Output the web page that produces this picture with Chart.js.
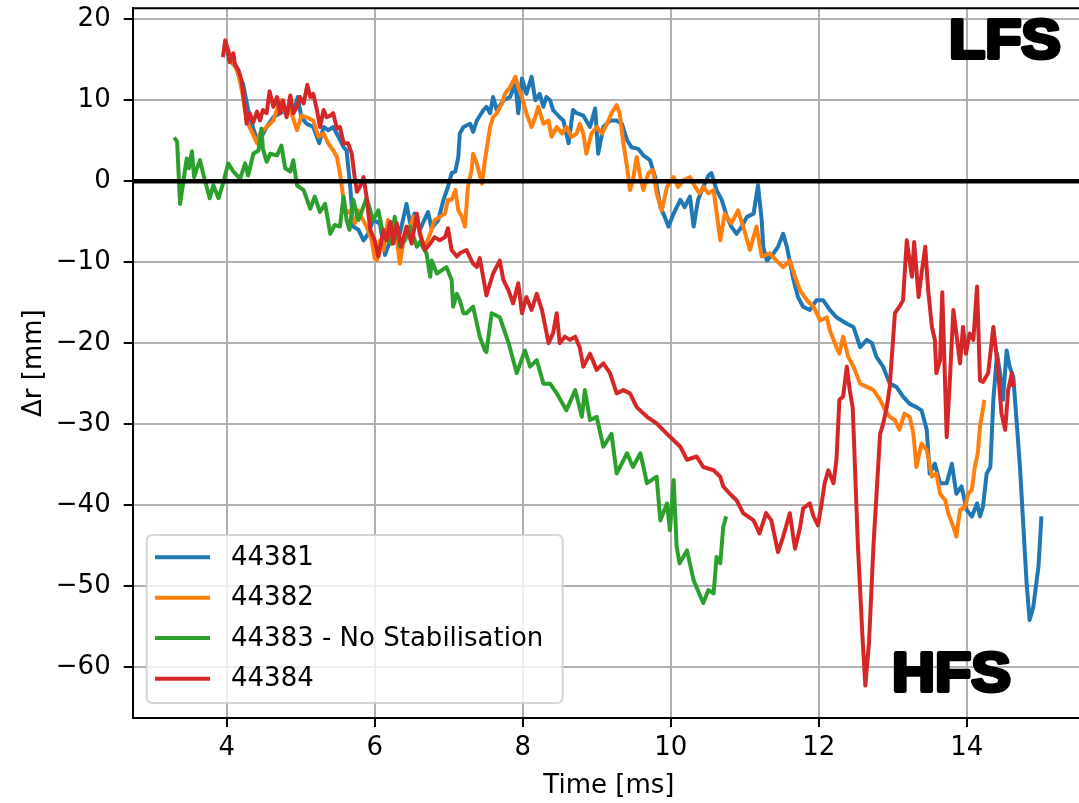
<!DOCTYPE html>
<html>
<head>
<meta charset="utf-8">
<script src="https://cdn.jsdelivr.net/npm/chart.js@4.4.1/dist/chart.umd.min.js"></script>
<style>
  html, body { margin: 0; padding: 0; background: #fff; overflow: hidden; }
  #wrap { width: 1079px; height: 803px; overflow: hidden; position: relative; }
  canvas { display: block; }
</style>
</head>
<body>
<div id="wrap"><canvas id="c" width="1090" height="803"></canvas></div>
<script>
// ---------- DATA ----------
const seriesLabels = ['44381', '44382', '44383 - No Stabilisation', '44384'];
const xTicks = [4, 6, 8, 10, 12, 14];
const yTicks = [-60, -50, -40, -30, -20, -10, 0, 10, 20];

const t44381 = [3.98,4.04,4.13,4.18,4.22,4.29,4.36,4.41,4.47,4.54,4.63,4.72,4.81,4.90,4.96,5.01,5.08,5.17,5.25,5.31,5.37,5.44,5.51,5.58,5.62,5.67,5.71,5.78,5.85,5.91,5.98,6.07,6.14,6.21,6.27,6.34,6.43,6.48,6.54,6.61,6.72,6.77,6.86,6.93,6.99,7.04,7.09,7.13,7.15,7.20,7.29,7.33,7.38,7.47,7.51,7.56,7.60,7.65,7.74,7.83,7.90,7.94,7.99,8.05,8.12,8.17,8.23,8.28,8.32,8.37,8.41,8.50,8.55,8.62,8.68,8.73,8.82,8.91,8.98,9.02,9.09,9.18,9.27,9.34,9.41,9.47,9.56,9.63,9.72,9.79,9.86,9.92,9.97,10.04,10.13,10.19,10.26,10.31,10.37,10.44,10.51,10.55,10.62,10.69,10.76,10.82,10.89,10.96,11.03,11.12,11.18,11.23,11.25,11.30,11.39,11.45,11.52,11.57,11.66,11.72,11.79,11.88,11.97,12.06,12.15,12.24,12.31,12.38,12.47,12.56,12.65,12.72,12.78,12.87,12.96,13.05,13.14,13.23,13.32,13.39,13.46,13.50,13.57,13.64,13.73,13.80,13.86,13.93,14.00,14.07,14.14,14.18,14.22,14.27,14.32,14.36,14.41,14.45,14.49,14.54,14.58,14.63,14.72,14.81,14.85,14.90,14.97,15.01];
const r44381 = [17.0,15.0,14.0,12.5,12.1,8.8,6.5,5.1,5.5,6.7,7.9,8.4,8.8,8.4,10.4,7.9,7.1,6.7,4.7,6.7,6.3,6.7,5.5,4.2,3.8,-0.7,-5.6,-6.0,-7.3,-6.5,-4.8,-5.2,-9.1,-7.3,-4.8,-6.5,-2.8,-5.2,-4.0,-6.0,-3.8,-5.8,-4.8,-2.3,-0.7,1.0,1.2,3.0,5.9,6.7,7.1,6.1,7.5,8.8,9.2,8.4,10.4,8.8,10.0,10.4,12.1,8.4,12.7,10.8,12.9,10.0,10.8,9.2,10.4,10.0,8.8,7.9,7.5,4.7,8.8,8.4,8.1,6.7,9.0,3.4,6.7,7.5,7.5,7.1,5.1,4.2,4.0,3.2,2.6,0.5,-3.2,-4.4,-5.6,-4.0,-2.3,-3.2,-1.9,-5.6,-2.3,-0.7,0.7,1.0,-1.1,-2.3,-4.4,-5.6,-6.5,-5.6,-4.4,-4.0,-0.5,-4.8,-8.1,-9.8,-8.9,-8.1,-6.5,-8.1,-12.2,-14.3,-15.5,-15.9,-14.7,-14.7,-15.9,-16.8,-17.2,-17.6,-18.0,-20.5,-19.6,-20.0,-21.7,-22.9,-25.0,-25.4,-26.6,-27.5,-27.9,-28.3,-30.7,-36.1,-34.9,-37.3,-37.3,-34.9,-38.6,-37.7,-40.6,-41.4,-39.8,-41.4,-40.2,-36.1,-35.3,-27.0,-21.3,-23.7,-27.0,-20.9,-22.9,-24.2,-35.3,-49.7,-54.2,-52.6,-47.6,-41.4];

const t44382 = [3.98,4.07,4.15,4.21,4.27,4.34,4.41,4.45,4.54,4.63,4.72,4.79,4.86,4.95,5.01,5.08,5.17,5.24,5.31,5.37,5.44,5.49,5.53,5.58,5.62,5.67,5.73,5.78,5.82,5.89,5.96,6.00,6.03,6.07,6.12,6.18,6.23,6.27,6.34,6.39,6.45,6.52,6.59,6.64,6.68,6.75,6.81,6.88,6.95,6.99,7.04,7.09,7.13,7.18,7.22,7.26,7.31,7.33,7.38,7.45,7.49,7.56,7.60,7.65,7.72,7.76,7.83,7.90,7.94,7.99,8.05,8.12,8.17,8.21,8.28,8.35,8.39,8.46,8.53,8.59,8.66,8.73,8.77,8.82,8.86,8.93,9.00,9.07,9.14,9.20,9.27,9.31,9.36,9.41,9.45,9.49,9.54,9.59,9.63,9.70,9.76,9.81,9.88,9.95,10.04,10.10,10.17,10.26,10.33,10.39,10.44,10.51,10.58,10.67,10.73,10.82,10.91,10.98,11.07,11.16,11.23,11.34,11.43,11.52,11.61,11.68,11.75,11.84,11.93,12.02,12.11,12.15,12.24,12.28,12.33,12.40,12.47,12.56,12.65,12.74,12.83,12.90,12.96,13.03,13.09,13.16,13.23,13.28,13.32,13.39,13.46,13.53,13.59,13.64,13.71,13.75,13.82,13.86,13.91,13.98,14.02,14.07,14.11,14.15,14.18,14.24];
const r44382 = [17.0,15.0,13.5,11.0,7.5,6.1,4.7,5.9,6.7,7.5,10.0,8.4,8.8,6.3,8.1,7.9,7.5,5.5,5.9,4.7,3.8,3.0,1.0,-2.3,-4.0,-3.6,-5.2,-3.6,-4.4,-5.6,-7.3,-9.5,-9.8,-7.3,-8.5,-4.8,-6.9,-5.2,-10.2,-7.3,-6.5,-4.4,-5.6,-7.3,-8.1,-6.5,-4.8,-4.4,-4.0,-2.3,-2.3,-1.1,-3.6,-4.4,-5.6,-0.7,1.4,3.4,2.2,-0.3,2.6,6.7,7.9,8.4,9.6,10.8,11.6,12.9,11.6,10.4,8.4,6.7,7.9,9.2,7.1,7.5,5.5,6.7,5.9,6.7,5.5,5.9,7.1,5.9,3.4,5.9,6.7,5.9,7.1,8.4,9.4,8.4,4.7,1.8,-1.1,0.1,3.0,0.5,-1.1,1.0,1.4,-1.5,-3.6,-0.7,0.5,-0.7,0.1,0.5,-0.7,-1.5,-0.7,-1.5,-1.1,-7.3,-4.0,-5.2,-3.6,-5.6,-8.5,-5.6,-9.3,-8.9,-9.8,-10.6,-9.8,-11.8,-13.5,-14.7,-15.5,-17.2,-16.8,-18.4,-20.5,-21.3,-19.2,-21.7,-22.9,-25.0,-25.4,-25.8,-27.0,-28.3,-29.1,-29.5,-30.7,-28.7,-29.1,-31.2,-35.3,-32.4,-33.2,-36.5,-36.1,-38.6,-39.4,-41.0,-42.7,-43.9,-40.6,-40.2,-38.6,-38.1,-35.3,-33.6,-30.3,-27.0];

const t44383 = [3.29,3.33,3.37,3.41,3.46,3.49,3.53,3.56,3.59,3.64,3.68,3.77,3.82,3.89,3.95,4.02,4.09,4.18,4.25,4.29,4.36,4.43,4.47,4.49,4.54,4.59,4.68,4.74,4.79,4.86,4.90,4.95,5.04,5.13,5.19,5.26,5.33,5.40,5.46,5.53,5.58,5.62,5.66,5.71,5.78,5.89,5.98,6.05,6.12,6.23,6.27,6.34,6.41,6.48,6.57,6.61,6.70,6.75,6.77,6.84,6.97,7.04,7.06,7.11,7.15,7.20,7.24,7.33,7.42,7.49,7.51,7.58,7.69,7.81,7.92,8.03,8.10,8.19,8.28,8.37,8.46,8.59,8.71,8.80,8.84,8.91,9.00,9.09,9.20,9.27,9.41,9.49,9.59,9.68,9.81,9.86,9.95,9.99,10.04,10.08,10.12,10.22,10.31,10.44,10.51,10.58,10.62,10.67,10.71,10.75];
const r44383 = [5.4,4.9,-2.8,-0.3,2.8,1.6,3.7,0.5,1.4,2.6,1.0,-2.1,-0.5,-2.1,-0.3,2.2,1.2,0.3,2.2,0.7,3.4,3.8,6.5,4.0,2.4,3.4,3.2,4.4,1.6,1.2,2.6,-0.5,-1.1,-3.4,-1.9,-3.8,-2.8,-6.5,-5.4,-5.6,-1.9,-4.8,-6.0,-2.3,-4.8,-2.1,-4.8,-3.6,-6.9,-7.7,-4.4,-8.1,-7.3,-5.6,-8.1,-7.5,-8.9,-11.8,-9.8,-11.4,-10.6,-12.2,-15.5,-13.9,-14.7,-16.3,-16.3,-15.5,-19.2,-20.9,-21.1,-16.3,-16.8,-20.0,-23.7,-20.9,-22.9,-22.1,-25.0,-25.0,-26.2,-28.3,-25.8,-29.1,-25.8,-29.5,-29.1,-32.8,-31.2,-36.1,-33.6,-35.3,-33.6,-37.3,-36.5,-41.9,-39.8,-43.1,-36.9,-45.1,-47.2,-45.6,-49.3,-52.1,-50.5,-50.9,-46.4,-47.2,-42.7,-41.4];

const t44384 = [3.95,3.98,4.02,4.04,4.09,4.11,4.16,4.20,4.25,4.27,4.31,4.36,4.41,4.45,4.49,4.54,4.58,4.63,4.68,4.72,4.76,4.81,4.86,4.90,4.95,4.99,5.04,5.09,5.13,5.17,5.22,5.26,5.31,5.35,5.40,5.44,5.49,5.53,5.58,5.64,5.69,5.73,5.76,5.80,5.85,5.89,5.94,6.00,6.05,6.12,6.16,6.21,6.25,6.30,6.36,6.43,6.50,6.57,6.61,6.68,6.75,6.81,6.88,6.95,6.99,7.04,7.11,7.15,7.24,7.33,7.38,7.42,7.51,7.60,7.69,7.74,7.81,7.87,7.94,7.99,8.05,8.12,8.19,8.26,8.35,8.41,8.46,8.50,8.57,8.64,8.71,8.77,8.82,8.91,9.00,9.09,9.18,9.27,9.36,9.45,9.54,9.68,9.81,9.95,10.04,10.13,10.22,10.35,10.44,10.58,10.67,10.71,10.80,10.89,10.98,11.12,11.20,11.29,11.36,11.45,11.52,11.61,11.68,11.75,11.79,11.88,11.93,11.99,12.04,12.08,12.13,12.20,12.24,12.28,12.33,12.38,12.42,12.46,12.53,12.59,12.63,12.68,12.74,12.83,12.87,12.92,12.96,13.03,13.09,13.14,13.19,13.26,13.29,13.35,13.39,13.44,13.48,13.53,13.57,13.59,13.64,13.67,13.73,13.77,13.82,13.86,13.91,13.95,13.99,14.04,14.09,14.14,14.18,14.22,14.29,14.36,14.42,14.47,14.52,14.56,14.61,14.63];
const r44384 = [15.3,17.4,16.2,14.7,15.8,14.5,13.7,12.5,8.8,7.1,8.4,7.3,8.6,7.5,8.8,8.4,11.1,9.2,10.4,8.4,10.0,7.9,10.6,8.4,9.2,10.4,9.6,11.9,10.4,10.8,8.8,6.7,8.8,7.9,8.1,8.4,6.5,6.7,4.7,4.7,3.4,0.5,-1.3,-0.7,0.5,-1.9,-6.0,-7.3,-9.3,-6.0,-7.3,-5.0,-7.7,-5.2,-8.1,-5.6,-7.7,-4.0,-6.5,-8.5,-7.7,-6.9,-7.3,-6.9,-5.8,-8.5,-9.3,-8.9,-8.5,-10.2,-10.6,-9.5,-14.1,-11.4,-9.8,-12.2,-13.5,-15.1,-12.6,-16.3,-14.3,-15.9,-13.9,-15.9,-20.0,-18.8,-16.3,-20.0,-19.2,-19.6,-19.2,-20.5,-22.9,-21.3,-23.3,-22.5,-23.7,-26.2,-25.8,-26.2,-27.9,-29.1,-29.9,-31.2,-32.0,-32.8,-34.4,-34.0,-35.3,-35.7,-36.5,-37.7,-38.6,-39.4,-41.0,-41.9,-43.5,-41.0,-41.9,-45.8,-43.9,-41.0,-45.4,-42.7,-40.4,-39.8,-41.4,-42.5,-39.8,-37.3,-35.7,-37.3,-34.4,-27.0,-26.6,-22.9,-25.8,-28.0,-45.0,-56.0,-62.3,-57.0,-45.0,-31.2,-30.0,-27.9,-25.4,-16.3,-15.5,-14.7,-7.3,-11.8,-7.5,-14.3,-11.4,-8.1,-13.5,-18.0,-19.6,-23.7,-22.1,-13.7,-31.6,-25.0,-15.9,-18.8,-22.5,-18.0,-21.3,-18.8,-19.6,-13.0,-24.6,-24.8,-23.7,-18.0,-22.9,-28.7,-30.7,-25.8,-23.7,-25.4];

const seriesColors = ['#1f77b4', '#ff7f0e', '#2ca02c', '#d62728'];
const seriesT = [t44381, t44382, t44383, t44384];
const seriesR = [r44381, r44382, r44383, r44384];

// ---------- CHART ----------
const FONT = "'DejaVu Sans', sans-serif";
const FS = 26;
const datasets = seriesLabels.map((lab, i) => ({
  label: lab,
  data: seriesT[i].map((t, k) => ({ x: t, y: seriesR[i][k] })),
  borderColor: seriesColors[i],
  backgroundColor: seriesColors[i],
  borderWidth: 4,
  borderJoinStyle: 'round',
  pointRadius: 0,
  tension: 0,
  fill: false,
  order: 3 - i
}));

const overlay = {
  id: 'overlay',
  beforeDraw(chart) {
    const c = chart.ctx;
    c.save(); c.fillStyle = '#fff'; c.fillRect(0, 0, chart.width, chart.height); c.restore();
  },
  afterDatasetsDraw(chart) {
    const { ctx, chartArea: a, scales: { y } } = chart;
    const y0 = y.getPixelForValue(0);
    ctx.save();
    ctx.beginPath(); ctx.rect(a.left, a.top, a.right - a.left, a.bottom - a.top); ctx.clip();
    ctx.strokeStyle = '#000'; ctx.lineWidth = 4.5;
    ctx.beginPath(); ctx.moveTo(a.left, y0); ctx.lineTo(a.right, y0); ctx.stroke();
    ctx.restore();
    ctx.save();
    ctx.strokeStyle = '#000'; ctx.lineWidth = 2;
    ctx.beginPath(); ctx.moveTo(a.left, a.top); ctx.lineTo(a.right, a.top); ctx.lineTo(a.right, a.bottom); ctx.stroke();
    ctx.restore();
  },
  afterDraw(chart) {
    const ctx = chart.ctx;
    ctx.save();
    const bx = 146.7, by = 535, bw = 416, bh = 168, rr = 6;
    ctx.beginPath();
    ctx.moveTo(bx + rr, by); ctx.lineTo(bx + bw - rr, by); ctx.quadraticCurveTo(bx + bw, by, bx + bw, by + rr);
    ctx.lineTo(bx + bw, by + bh - rr); ctx.quadraticCurveTo(bx + bw, by + bh, bx + bw - rr, by + bh);
    ctx.lineTo(bx + rr, by + bh); ctx.quadraticCurveTo(bx, by + bh, bx, by + bh - rr);
    ctx.lineTo(bx, by + rr); ctx.quadraticCurveTo(bx, by, bx + rr, by); ctx.closePath();
    ctx.fillStyle = 'rgba(255,255,255,0.8)'; ctx.fill();
    ctx.strokeStyle = 'rgba(204,204,204,0.8)'; ctx.lineWidth = 2; ctx.stroke();
    const rows = [557.3, 597.7, 638, 678.7];
    ctx.font = FS + 'px ' + FONT; ctx.textBaseline = 'middle'; ctx.textAlign = 'left';
    chart.data.datasets.forEach((ds, i) => {
      ctx.strokeStyle = ds.borderColor; ctx.lineWidth = 4;
      ctx.beginPath(); ctx.moveTo(155, rows[i]); ctx.lineTo(210, rows[i]); ctx.stroke();
      ctx.fillStyle = '#000';
      ctx.fillText(ds.label, 231, rows[i] + 1);
    });
    ctx.restore();
    const drawBig = (txt, x, base, w) => {
      ctx.save();
      ctx.font = "bold 56px 'Liberation Sans', Arial, sans-serif";
      const nat = ctx.measureText(txt).width + 4;
      ctx.translate(x + 2, base - 2);
      ctx.scale(w / nat, 1);
      ctx.fillStyle = '#000'; ctx.strokeStyle = '#000'; ctx.lineWidth = 4; ctx.lineJoin = 'round';
      ctx.strokeText(txt, 0, 0); ctx.fillText(txt, 0, 0);
      ctx.restore();
    };
    drawBig('LFS', 947, 60, 116);
    drawBig('HFS', 890, 693, 123);
  }
};

const tickFont = { family: FONT, size: FS };
const zeroPad = s => { s.paddingTop = 0; s.paddingBottom = 0; s.paddingLeft = 0; s.paddingRight = 0; };
new Chart(document.getElementById('c'), {
  type: 'line',
  data: { datasets },
  options: {
    responsive: false,
    animation: false,
    events: [],
    layout: { padding: { left: 0, top: 8.3, right: 4.9, bottom: 0 } },
    scales: {
      x: {
        type: 'linear', min: 2.73, max: 15.6,
        afterBuildTicks: s => { s.ticks = xTicks.map(v => ({ value: v })); },
        afterFit: s => { s.height = 85; zeroPad(s); },
        ticks: { font: tickFont, color: '#000', padding: 6, maxRotation: 0, callback: v => String(v) },
        grid: { color: '#b0b0b0', lineWidth: 2, tickColor: '#000', tickLength: 9, tickWidth: 2 },
        border: { color: '#000', width: 2 },
        title: { display: true, text: 'Time [ms]', font: { family: FONT, size: FS }, color: '#000', padding: { top: 0, bottom: 1 } }
      },
      y: {
        min: -66.3, max: 21.36,
        afterBuildTicks: s => { s.ticks = yTicks.map(v => ({ value: v })); },
        afterFit: s => { s.width = 132.7; zeroPad(s); },
        ticks: { font: tickFont, color: '#000', padding: 13, callback: v => (v < 0 ? '\u2212' + Math.abs(v) : String(v)) },
        grid: { color: '#b0b0b0', lineWidth: 2, tickColor: '#000', tickLength: 9, tickWidth: 2 },
        border: { color: '#000', width: 2 },
        title: { display: true, text: 'Δr [mm]', font: { family: FONT, size: FS }, color: '#000', padding: { top: 19, bottom: 0 } }
      }
    },
    plugins: { legend: { display: false }, tooltip: { enabled: false } }
  },
  plugins: [overlay]
});
</script>
</body>
</html>
